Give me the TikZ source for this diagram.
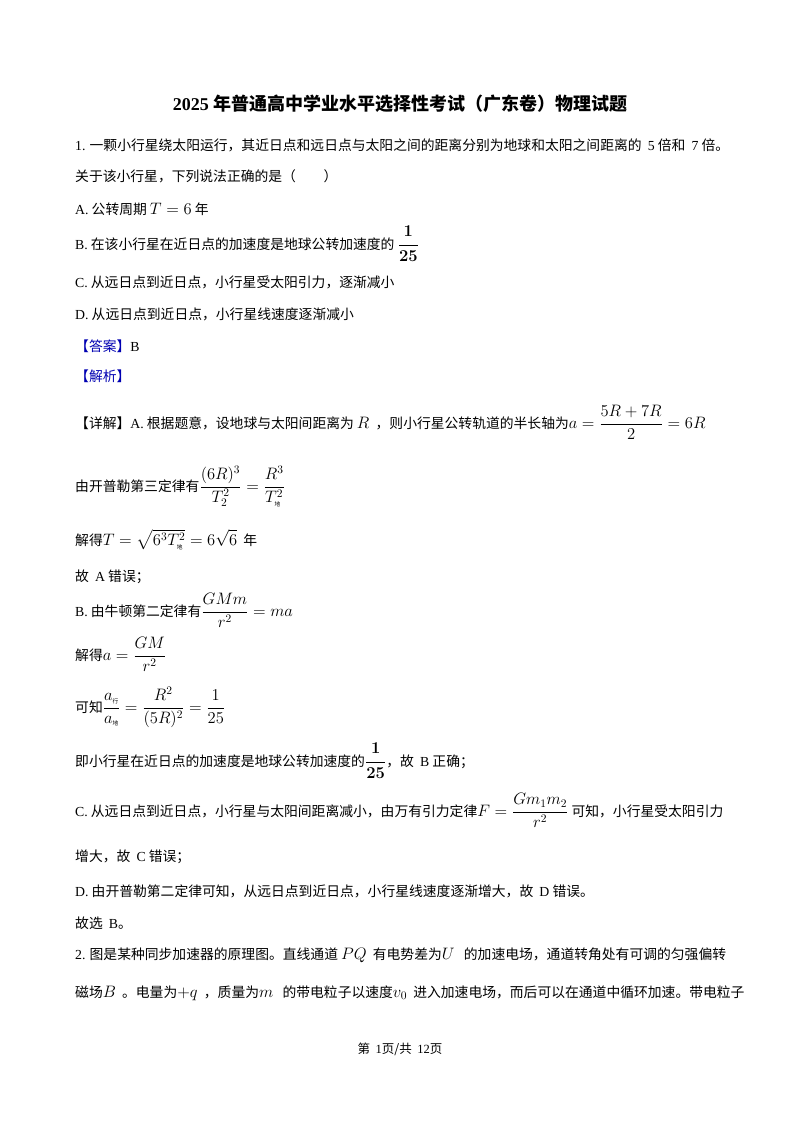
\documentclass[tikz,border=0pt]{standalone}
\usepackage{amsmath}
\usepackage{graphicx}
\usepackage{fontspec}
\setmainfont{Noto Sans CJK SC}
\newfontfamily\tnr{Liberation Serif}
\newcommand{\mm}[1]{\scalebox{1.15}{$\displaystyle #1$}}
\begin{document}
\begin{tikzpicture}[x=1pt,y=-1pt,
  ln/.style={anchor=base west,inner sep=0pt,font=\fontsize{13.8}{16}\selectfont}]
\useasboundingbox (0,0) rectangle (800,1132);
\fill[white] (0,0) rectangle (800,1132);
\node[anchor=base,inner sep=0pt,font=\fontsize{18}{20}\selectfont\bfseries] (title) at (400,110) {{\tnr\bfseries 2025} 年普通高中学业水平选择性考试（广东卷）物理试题};
\node[ln] (l1) at (75,150) {{\tnr 1.} 一颗小行星绕太阳运行，其近日点和远日点与太阳之间的距离分别为地球和太阳之间距离的 \ {\tnr 5} 倍和 \ {\tnr 7} 倍。};
\node[ln] (l2) at (75,181) {关于该小行星，下列说法正确的是（\quad\quad）};
\node[ln] (l3) at (75,214) {{\tnr A.} 公转周期 \mm{T=6} 年};
\node[ln] (l4) at (75,249) {{\tnr B.} 在该小行星在近日点的加速度是地球公转加速度的 \mm{\boldsymbol{\frac{1}{25}}}};
\node[ln] (l5) at (75,287) {{\tnr C.} 从远日点到近日点，小行星受太阳引力，逐渐减小};
\node[ln] (l6) at (75,319) {{\tnr D.} 从远日点到近日点，小行星线速度逐渐减小};
\node[ln,text=blue!70!black] (l7) at (75,351) {【答案】{\color{black}\tnr B}};
\node[ln,text=blue!70!black] (l8) at (75,381) {【解析】};
\node[ln] (l9) at (75,428) {【详解】{\tnr A.} 根据题意，设地球与太阳间距离为 \mm{R} \ ，则小行星公转轨道的半长轴为\mm{a=\frac{5R+7R}{2}=6R}};
\node[ln] (l10) at (75,491) {由开普勒第三定律有\mm{\frac{(6R)^3}{T_2^2}=\frac{R^3}{T_{\mbox{\tiny 地}}^2}}};
\node[ln] (l11) at (75,545) {解得\mm{T=\sqrt{6^3T_{\mbox{\tiny 地}}^2}=6\sqrt{6}} \ 年};
\node[ln] (l12) at (75,581) {故 \ {\tnr A} 错误；};
\node[ln] (l13) at (75,616) {{\tnr B.} 由牛顿第二定律有\mm{\frac{GMm}{r^2}=ma}};
\node[ln] (l14) at (75,660) {解得\mm{a=\frac{GM}{r^2}}};
\node[ln] (l15) at (75,712) {可知\mm{\frac{a_{\mbox{\tiny 行}}}{a_{\mbox{\tiny 地}}}=\frac{R^2}{(5R)^2}=\frac{1}{25}}};
\node[ln] (l16) at (75,766) {即小行星在近日点的加速度是地球公转加速度的\mm{\boldsymbol{\frac{1}{25}}}，故 \ {\tnr B} 正确；};
\node[ln] (l17) at (75,816) {{\tnr C.} 从远日点到近日点，小行星与太阳间距离减小，由万有引力定律\mm{F=\frac{Gm_1m_2}{r^2}} 可知，小行星受太阳引力};
\node[ln] (l18) at (75,861) {增大，故 \ {\tnr C} 错误；};
\node[ln] (l19) at (75,896) {{\tnr D.} 由开普勒第二定律可知，从远日点到近日点，小行星线速度逐渐增大，故 \ {\tnr D} 错误。};
\node[ln] (l20) at (75,928) {故选 \ {\tnr B}。};
\node[ln] (l21) at (75,959) {{\tnr 2.} 图是某种同步加速器的原理图。直线通道 \mm{PQ} \ 有电势差为\mm{U} \ \ 的加速电场，通道转角处有可调的匀强偏转};
\node[ln] (l22) at (75,997) {磁场\mm{B} \ 。电量为\mm{+q} \ ，质量为\mm{m} \ \ 的带电粒子以速度\mm{v_0} \ 进入加速电场，而后可以在通道中循环加速。带电粒子};
\node[anchor=base,inner sep=0pt,font=\fontsize{12.5}{14}\selectfont] (foot) at (400,1053) {第 \ {\tnr 1}页/共 \ {\tnr 12}页};
\end{tikzpicture}
\end{document}
